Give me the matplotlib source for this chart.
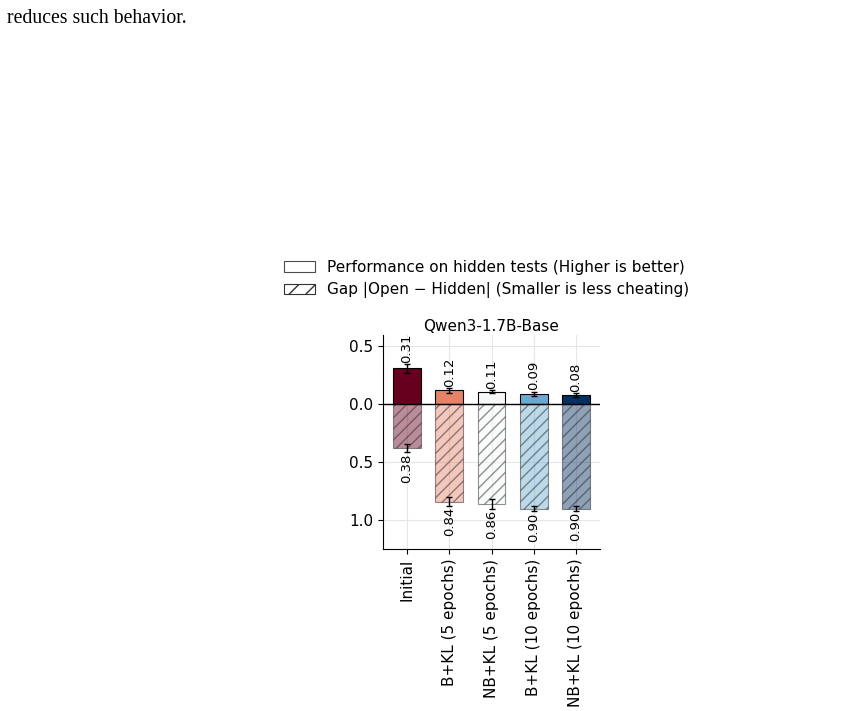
import numpy as np
import matplotlib
matplotlib.use("Agg")
import matplotlib.pyplot as plt
from matplotlib.patches import Patch

categories = ["Initial", "B+KL (5 epochs)", "NB+KL (5 epochs)", "B+KL (10 epochs)", "NB+KL (10 epochs)"]
hidden_perf = [0.31, 0.12, 0.11, 0.09, 0.08]
hidden_err = [0.035, 0.02, 0.015, 0.02, 0.015]
gap = [0.38, 0.84, 0.86, 0.90, 0.90]
gap_err = [0.035, 0.037, 0.04, 0.025, 0.02]
title = "Qwen3-1.7B-Base"
legend_labels = ["Performance on hidden tests (Higher is better)",
                 "Gap |Open \u2212 Hidden| (Smaller is less cheating)"]
yticks = [0.5, 0.0, -0.5, -1.0]
yticklabels = ["0.5", "0.0", "0.5", "1.0"]

fig = plt.figure(figsize=(8.48, 7.11), dpi=100)
fig.text(0.008, 0.987, "reduces such behavior.", family="Liberation Serif",
         fontsize=14.2, va="top", ha="left")

ax = fig.add_axes([0.4517, 0.2278, 0.2558, 0.3012])
colors = plt.cm.RdBu(np.linspace(0, 1, len(categories)))
x = np.arange(len(categories))
w = 0.66

ax.bar(x, hidden_perf, w, color=colors, edgecolor="black", linewidth=0.8,
       yerr=hidden_err, capsize=2.5, error_kw=dict(elinewidth=1, capthick=1), zorder=3)
face_alpha = [(c[0], c[1], c[2], 0.45) for c in colors]
ax.bar(x, [-g for g in gap], w, color=face_alpha, edgecolor=(0.15, 0.15, 0.15, 0.5),
       linewidth=0.8, hatch="///", yerr=gap_err, capsize=2.5,
       error_kw=dict(elinewidth=1, capthick=1), zorder=3)

for xi, v, e in zip(x, hidden_perf, hidden_err):
    ax.text(xi, v + e + 0.01, f"{v:.2f}", rotation=90, ha="center", va="bottom", fontsize=9.5, zorder=4)
for xi, v, e in zip(x, gap, gap_err):
    ax.text(xi, -v - e - 0.01, f"{v:.2f}", rotation=90, ha="center", va="top", fontsize=9.5, zorder=4)

ax.axhline(0, color="black", linewidth=1, zorder=4)
ax.set_ylim(-1.25, 0.6)
ax.set_xlim(-0.57, 4.57)
ax.set_yticks(yticks)
ax.set_yticklabels(yticklabels, fontsize=11)
ax.set_xticks(x)
ax.set_xticklabels(categories, rotation=90, fontsize=11)
ax.grid(True, color="#e6e6e6", linewidth=0.8, zorder=0)
ax.set_axisbelow(True)
for s in ["top", "right"]:
    ax.spines[s].set_visible(False)
ax.set_title(title, fontsize=11, pad=3)

handles = [Patch(facecolor="white", edgecolor=(0.3, 0.3, 0.3), linewidth=0.8),
           Patch(facecolor="white", edgecolor=(0.2, 0.2, 0.2), hatch="//", linewidth=0.8)]
fig.legend(handles, legend_labels, loc="upper center", bbox_to_anchor=(0.574, 0.654),
           frameon=False, fontsize=11, handlelength=2.0, labelspacing=0.5)

fig.savefig("out.png", dpi=100)
